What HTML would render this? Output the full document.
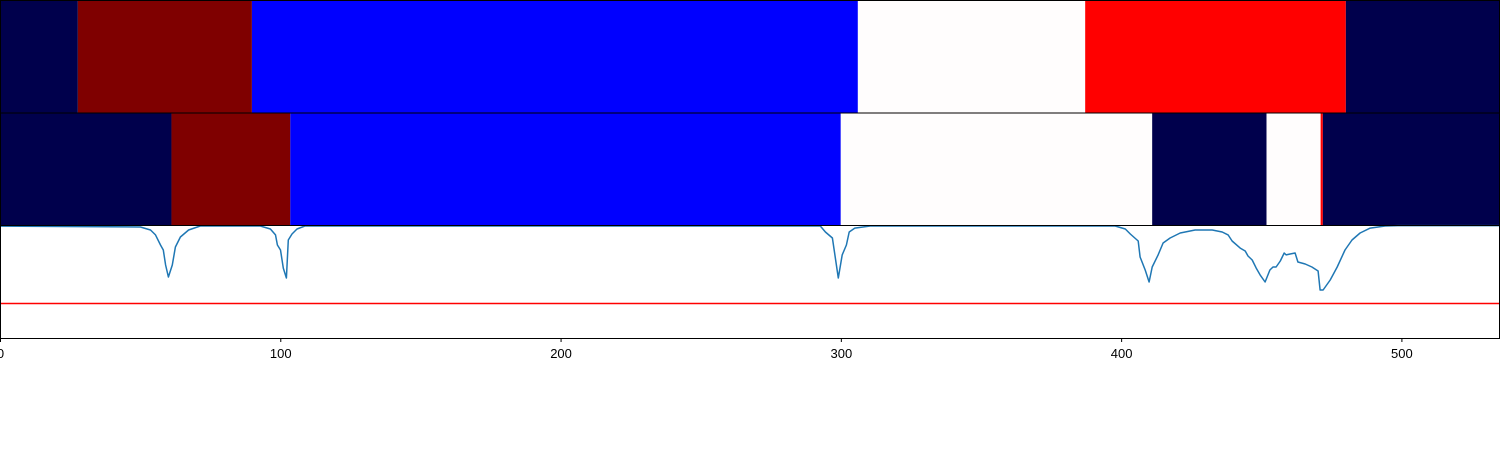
<!DOCTYPE html>
<html><head><meta charset="utf-8"><style>
body{margin:0;background:#fff;}
svg{display:block;font-family:"Liberation Sans","DejaVu Sans",sans-serif;}
</style></head><body>
<svg id="chart" width="1500" height="450" xmlns="http://www.w3.org/2000/svg"></svg>
<script>
const bandRow1Starts=[0,27.6,89.7,305.9,387,480];
const bandRow1Ends=[27.6,89.7,305.9,387,480,535];
const bandRow1Classes=["navy","maroon","blue","white","red","navy"];
const bandRow2Starts=[0,61,103.4,299.8,410.9,451.7,471,471.8];
const bandRow2Ends=[61,103.4,299.8,410.9,451.7,471,471.8,535];
const bandRow2Classes=["navy","maroon","blue","white","navy","white","red","navy"];
const lineX=[0,49.9,53.5,55.3,57.1,58.1,58.9,59.9,61.3,62.4,64.2,67.1,71.3,92.7,96.3,98.1,98.8,99.9,100.9,102.0,102.7,104.0,105.8,108.6,292.5,294.3,296.8,298.9,300.3,301.8,302.8,304.8,310.3,397.7,401.3,403.1,405.9,406.6,408.4,409.8,410.9,413.0,414.8,417.3,420.9,426.2,432.3,435.9,438.0,439.4,442.3,444.1,445.1,446.6,448.0,449.4,451.2,452.9,454.0,455.1,456.6,458.0,458.7,460.1,461.9,462.9,465.5,467.9,470.1,470.8,471.9,474.4,476.9,479.7,482.2,485.1,488.7,494.0,499.4,535];
const lineY=[0.99,0.982,0.956,0.912,0.823,0.779,0.646,0.54,0.646,0.805,0.894,0.956,0.991,0.991,0.965,0.912,0.823,0.779,0.619,0.531,0.867,0.92,0.965,0.991,0.991,0.938,0.885,0.531,0.735,0.823,0.938,0.973,0.991,0.991,0.965,0.92,0.858,0.717,0.602,0.496,0.628,0.735,0.841,0.885,0.929,0.956,0.956,0.938,0.912,0.858,0.796,0.77,0.726,0.69,0.619,0.558,0.496,0.602,0.628,0.628,0.681,0.752,0.735,0.743,0.752,0.673,0.655,0.628,0.593,0.425,0.425,0.513,0.628,0.779,0.867,0.929,0.973,0.991,0.995,0.995];
const threshold=[0.305];
const xTicks=[0,100,200,300,400,500];
const colors={navy:"#00004c",maroon:"#7f0000",blue:"#0000ff",white:"#fffdfd",red:"#ff0000"};
const NS="http://www.w3.org/2000/svg";
const svg=document.getElementById("chart");
const xMax=535;
function sx(v){return 0.5+v*(1499.5/xMax);}
function sy(v){return 338-v*113;}
function mk(t,a){const e=document.createElementNS(NS,t);for(const k in a)e.setAttribute(k,a[k]);svg.appendChild(e);return e;}
function bands(starts,ends,cls,y0,y1,name){
  for(let i=0;i<starts.length;i++){
    const r=mk("rect",{x:sx(starts[i]),y:y0,width:Math.max(sx(ends[i])-sx(starts[i]),0.5),height:y1-y0,fill:colors[cls[i]]});
    
    
  }
}
bands(bandRow1Starts,bandRow1Ends,bandRow1Classes,0,112.5,'top-band');
bands(bandRow2Starts,bandRow2Ends,bandRow2Classes,112.5,225,'middle-band');
let d="";
for(let i=0;i<lineX.length;i++)d+=(i?"L":"M")+sx(lineX[i]).toFixed(1)+","+sy(lineY[i]).toFixed(1);
const p=mk("path",{d:d,fill:"none",stroke:"#1f77b4","stroke-width":1.5,"stroke-linejoin":"round"});


const th=mk("line",{x1:0,x2:1500,y1:sy(threshold[0]),y2:sy(threshold[0]),stroke:"#ff0000","stroke-width":1.5});


const frames=[[0,0,112.5],[1,112.5,225],[2,225,338]];
frames.forEach(f=>{
  const r=mk("rect",{x:0.5,y:f[1]+0.5,width:1499,height:f[2]-f[1],fill:"none",stroke:"#000","stroke-width":1});
  
  
});
xTicks.forEach(t=>{
  const l=mk("line",{x1:sx(t),x2:sx(t),y1:338,y2:342,stroke:"#000","stroke-width":1});
  
  
  const tx=mk("text",{x:sx(t),y:358,"font-size":13,"text-anchor":"middle",fill:"#000"});
  tx.textContent=t;
  
  
});
</script>
</body></html>
